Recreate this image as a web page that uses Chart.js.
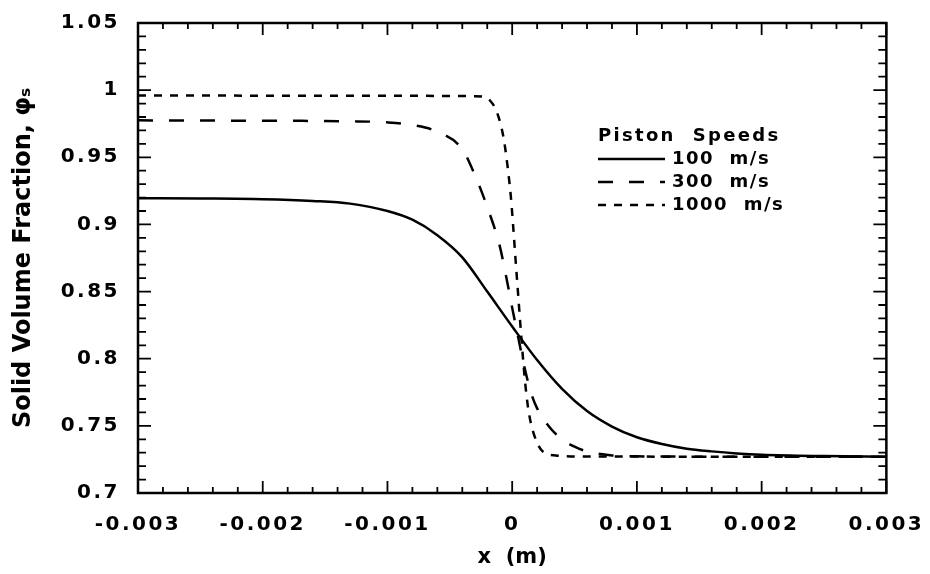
<!DOCTYPE html>
<html>
<head>
<meta charset="utf-8">
<script src="https://cdn.jsdelivr.net/npm/chart.js@4.4.1/dist/chart.umd.min.js"></script>
<style>
  html, body { margin: 0; padding: 0; background: #fff; }
  #wrap { width: 930px; height: 574px; }
</style>
</head>
<body>
<div id="wrap"><canvas id="c" width="930" height="574"></canvas></div>
<script>
// ---- data ----
const seriesNames = ['100  m/s', '300  m/s', '1000  m/s'];
const legendTitle = 'Piston  Speeds';

const x100 = [-0.003, -0.0025, -0.002, -0.0016, -0.0013, -0.001, -0.0008, -0.0006, -0.0004, -0.0002, 0, 0.0002, 0.0004, 0.0006, 0.0008, 0.001, 0.0012, 0.0014, 0.0016, 0.0018, 0.002, 0.0025, 0.003];
const y100 = [0.9195, 0.9193, 0.9188, 0.9175, 0.9155, 0.9100, 0.9035, 0.8920, 0.8755, 0.8500, 0.8240, 0.7990, 0.7775, 0.7610, 0.7495, 0.7415, 0.7365, 0.7330, 0.7310, 0.7295, 0.7285, 0.7275, 0.7270];

const x300 = [-0.003, -0.002, -0.0013, -0.001, -0.0008, -0.0006, -0.0004, -0.0003, -0.0002, -0.0001, -0.00005, 0, 0.00005, 0.0001, 0.00015, 0.0002, 0.0003, 0.0004, 0.0005, 0.0006, 0.0008, 0.001, 0.002, 0.003];
const y300 = [0.9775, 0.9772, 0.9768, 0.9760, 0.9740, 0.9690, 0.9560, 0.9370, 0.9130, 0.8840, 0.8620, 0.8380, 0.8150, 0.7930, 0.7750, 0.7630, 0.7490, 0.7400, 0.7345, 0.7310, 0.7280, 0.7273, 0.7270, 0.7270];

const x1000 = [-0.003, -0.001, -0.0003, -0.00023, -0.00018, -0.00012, -0.00007, -0.00004, -0.00001, 0.00001, 0.00003, 0.00005, 0.00007, 0.0001, 0.00013, 0.00017, 0.00025, 0.00035, 0.0005, 0.003];
const y1000 = [0.9960, 0.9958, 0.9955, 0.9950, 0.9925, 0.9830, 0.9650, 0.9455, 0.9200, 0.8960, 0.8700, 0.8450, 0.8200, 0.7860, 0.7620, 0.7450, 0.7305, 0.7280, 0.7272, 0.7270];

const xTickValues = [-0.003, -0.002, -0.001, 0, 0.001, 0.002, 0.003];
const xTickLabels = ['-0.003', '-0.002', '-0.001', '0', '0.001', '0.002', '0.003'];
const yTickValues = [0.7, 0.75, 0.8, 0.85, 0.9, 0.95, 1, 1.05];
const yTickLabels = ['0.7', '0.75', '0.8', '0.85', '0.9', '0.95', '1', '1.05'];
const xMinorStep = 0.0002;
const yMinorStep = 0.01;

const xTitle = 'x  (m)';
const yTitle = 'Solid Volume Fraction, \u03C6\u209B';

// ---- styling ----
const FONT = '"DejaVu Sans", "Liberation Sans", Arial, sans-serif';
const dashes = [[], [15, 16], [8, 8]];

function pts(xs, ys) { return xs.map((x, i) => ({ x: x, y: ys[i] })); }

const datasets = [
  { label: seriesNames[0], data: pts(x100, y100) },
  { label: seriesNames[1], data: pts(x300, y300) },
  { label: seriesNames[2], data: pts(x1000, y1000) }
].map((d, i) => Object.assign(d, {
  borderColor: '#000', backgroundColor: '#000', borderWidth: 2.5,
  borderDash: dashes[i], pointRadius: 0, fill: false,
  cubicInterpolationMode: 'monotone', borderCapStyle: 'butt'
}));

const framePlugin = {
  id: 'frame',
  beforeDraw(chart) {
    chart.ctx.letterSpacing = '2.5px';
    Object.values(chart.scales).forEach(s => {
      if (!s.__wrapped) {
        const orig = s.drawTitle;
        s.drawTitle = function () {
          const ctx = this.ctx; const prev = ctx.letterSpacing;
          ctx.letterSpacing = '0px';
          orig.apply(this, arguments);
          ctx.letterSpacing = prev;
        };
        s.__wrapped = true;
      }
    });
  },
  afterDraw(chart) {
    const ctx = chart.ctx;
    const a = chart.chartArea;
    const xs = chart.scales.x, ys = chart.scales.y;
    ctx.save();
    ctx.letterSpacing = '0px';
    ctx.strokeStyle = '#000';
    // minor + major ticks, inward on all four sides
    ctx.lineWidth = 1.8;
    ctx.beginPath();
    const nx = Math.round((xs.max - xs.min) / xMinorStep);
    for (let i = 0; i <= nx; i++) {
      const v = xs.min + i * xMinorStep;
      const px = xs.getPixelForValue(v);
      const major = i % 5 === 0;
      const L = major ? 12 : 6;
      ctx.moveTo(px, a.bottom); ctx.lineTo(px, a.bottom - L);
      ctx.moveTo(px, a.top); ctx.lineTo(px, a.top + L);
    }
    const ny = Math.round((ys.max - ys.min) / yMinorStep);
    for (let i = 0; i <= ny; i++) {
      const v = ys.min + i * yMinorStep;
      const py = ys.getPixelForValue(v);
      const major = i % 5 === 0;
      const L = major ? 13 : 8;
      ctx.moveTo(a.left, py); ctx.lineTo(a.left + L, py);
      ctx.moveTo(a.right, py); ctx.lineTo(a.right - L, py);
    }
    ctx.stroke();
    ctx.lineWidth = 2.5;
    ctx.strokeRect(a.left, a.top, a.right - a.left, a.bottom - a.top);

    // legend
    ctx.fillStyle = '#000';
    ctx.font = 'bold 18px ' + FONT;
    ctx.textBaseline = 'middle';
    ctx.textAlign = 'left';
    const lx = 598, ly = 136, lh = 23;
    ctx.letterSpacing = '2.3px';
    ctx.fillText(legendTitle, lx, ly);
    ctx.letterSpacing = '1.5px';
    chart.data.datasets.forEach((d, i) => {
      const y = ly + lh * (i + 1);
      ctx.lineWidth = d.borderWidth;
      ctx.setLineDash(d.borderDash);
      ctx.beginPath(); ctx.moveTo(lx, y); ctx.lineTo(lx + 67, y); ctx.stroke();
      ctx.setLineDash([]);
      ctx.fillText(d.label, lx + 74, y);
    });
    ctx.restore();
  }
};

new Chart(document.getElementById('c'), {
  type: 'line',
  data: { datasets: datasets },
  options: {
    responsive: false,
    animation: false,
    devicePixelRatio: 1,
    layout: { padding: { top: 23, right: 43, left: 0, bottom: 0 } },
    plugins: { legend: { display: false }, tooltip: { enabled: false } },
    scales: {
      x: {
        type: 'linear', min: -0.003, max: 0.003,
        afterBuildTicks: s => { s.ticks = xTickValues.map(v => ({ value: v })); },
        afterFit: s => { s.height = 81; },
        grid: { display: false }, border: { display: false },
        ticks: {
          color: '#000', padding: 12, maxRotation: 0, autoSkip: false,
          font: { family: FONT, size: 20, weight: 'bold' },
          callback: (v, i) => xTickLabels[i]
        },
        title: { display: true, text: xTitle, color: '#000', padding: { top: 4, bottom: 4 },
          font: { family: FONT, size: 21, weight: 'bold' } }
      },
      y: {
        type: 'linear', min: 0.7, max: 1.05,
        afterBuildTicks: s => { s.ticks = yTickValues.map(v => ({ value: v })); },
        afterFit: s => { s.width = 138; },
        grid: { display: false }, border: { display: false },
        ticks: {
          color: '#000', padding: 10, autoSkip: false,
          font: { family: FONT, size: 20, weight: 'bold' },
          callback: (v, i) => yTickLabels[i]
        },
        title: { display: true, text: yTitle, color: '#000', padding: { top: 9, bottom: 9 },
          font: { family: FONT, size: 24, weight: 'bold' } }
      }
    }
  },
  plugins: [framePlugin]
});
</script>
</body>
</html>
